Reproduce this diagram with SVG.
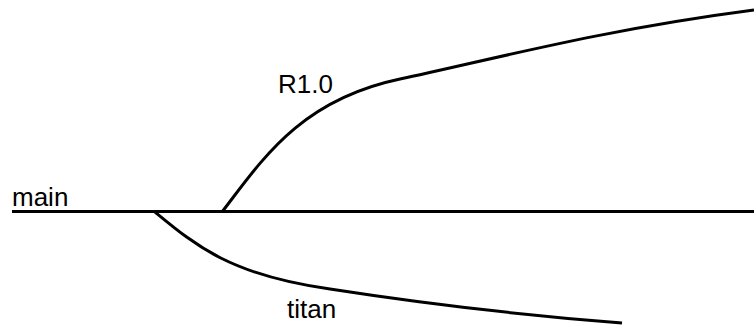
<svg xmlns="http://www.w3.org/2000/svg" width="754" height="326" viewBox="0 0 754 326">
<style>
.br{fill:none;stroke:#000;stroke-width:3}
.lb{font-family:"Liberation Sans",Arial,sans-serif;font-size:26px;fill:#000}
</style>
<rect width="754" height="326" fill="#fff"/>
<g id="connectors">
<path class="br" d="M12,211.5 L754,211.5"/>
<path class="br" d="M222,212 C262,160 300,100 400,79 C490,60 600,30 754,10"/>
<path class="br" d="M155,212 C195,245 230,275 330,289 C420,303 520,315 622,323"/>
</g>
<g id="main"><text class="lb" x="12" y="206">main</text></g>
<g id="r10"><text class="lb" x="278" y="93">R1.0</text></g>
<g id="titan"><text class="lb" x="287" y="318">titan</text></g>
</svg>
